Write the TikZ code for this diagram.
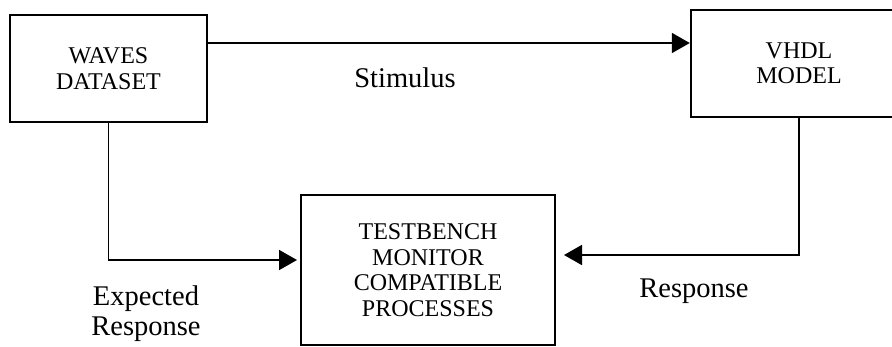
\documentclass[tikz,border=0pt]{standalone}
\usepackage{fontspec}
\setmainfont{Liberation Serif}
\usetikzlibrary{arrows.meta}

\begin{document}
\begin{tikzpicture}[x=1pt,y=-1pt,
  bloc/.style={draw, line width=2.4pt, align=center, inner sep=0pt,
    font=\fontsize{24}{25.5}\selectfont},%boites du schema
  fleche/.style={line width=1.8pt, -{Triangle[length=18pt,width=20pt]}},%fleches pleines
  etiq/.style={align=center, font=\fontsize{28.5}{30}\selectfont}]%textes des fleches
  \useasboundingbox (0,0) rectangle (892,346);
  \clip (0,0) rectangle (892,346);
  \node[bloc, minimum width=197pt, minimum height=107pt] (waves) at (108.5,68.5) {WAVES\\DATASET};
  \node[bloc, minimum width=216pt, minimum height=107pt] (vhdl) at (799,63.5) {VHDL\\MODEL};
  \node[bloc, minimum width=254pt, minimum height=150pt] (tb) at (428,270) {TESTBENCH\\MONITOR\\COMPATIBLE\\PROCESSES};
  % extremites libres
  \coordinate (s) at (0,43);
  \coordinate (e) at (297,260);
  \coordinate (r) at (564,255);
  \draw[fleche] (waves.east |- s) -- (vhdl.west |- s);
  \draw[fleche] (waves.south) |- (e);
  \draw[fleche] (vhdl.south) |- (r);
  \node[etiq, anchor=base] (stim) at (405,87) {Stimulus};
  \node[etiq] (exp) at (146,314) {Expected\\Response};
  \node[etiq, anchor=base] (resp) at (694,297) {Response};
\end{tikzpicture}
\end{document}
